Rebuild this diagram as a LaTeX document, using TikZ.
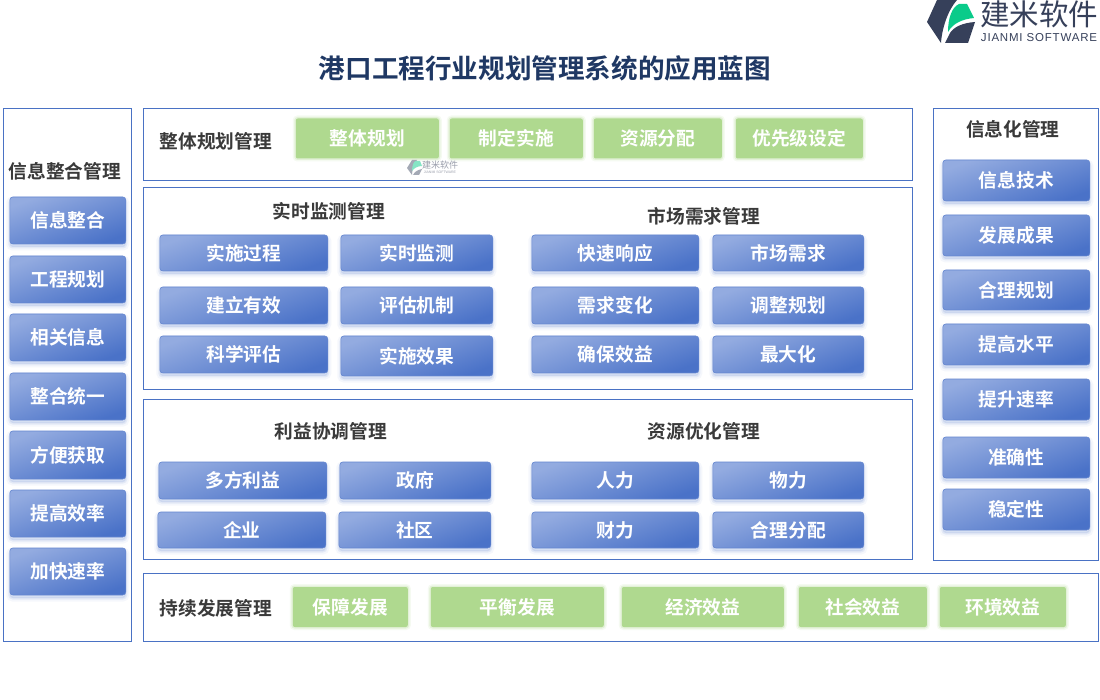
\documentclass[tikz,border=0pt]{standalone}
\usepackage{fontspec}
\setmainfont{Noto Sans CJK SC}[BoldFont={Noto Sans CJK SC Bold}]
\setsansfont{Liberation Sans}
\usetikzlibrary{shadows}
\definecolor{panelblue}{HTML}{4A72C4}
\definecolor{lightblue}{HTML}{93ABE0}
\definecolor{darkblue}{HTML}{4A72C8}
\definecolor{leafgreen}{HTML}{AFD98F}
\definecolor{logodark}{HTML}{36405A}
\definecolor{logogreen}{HTML}{0ACB8A}
\definecolor{headnavy}{HTML}{1F3864}
\definecolor{headgrey}{HTML}{3A3A3A}
\tikzset{
  panel/.style={draw=panelblue,line width=.9pt,fill=white,inner sep=0pt,outer sep=0pt},
  bluebox/.style={xshift=.8pt,rounded corners=3pt,draw=darkblue!85!white,line width=.6pt,left color=lightblue,right color=darkblue,shading angle=20,
    text=white,font=\bfseries\fontsize{18.7}{20}\selectfont,inner sep=0pt,outer sep=0pt,
    general shadow={draw=darkblue,fill=darkblue,draw opacity=.05,fill opacity=.05,line width=7pt,shadow xshift=0pt,shadow yshift=-3pt},
    general shadow={draw=darkblue,fill=darkblue,draw opacity=.10,fill opacity=.10,line width=3pt,shadow xshift=0pt,shadow yshift=-3pt}},
  greenbox/.style={xshift=.8pt,rounded corners=2pt,fill=leafgreen,text=white,font=\bfseries\fontsize{18.7}{20}\selectfont,inner sep=0pt,outer sep=0pt,
    general shadow={draw=leafgreen,draw opacity=.12,line width=6pt,shadow xshift=0pt,shadow yshift=0pt},
    general shadow={draw=leafgreen,draw opacity=.25,line width=3pt,shadow xshift=0pt,shadow yshift=0pt}},
  paneltitle/.style={xshift=.8pt,text=headgrey,font=\bfseries\fontsize{18.7}{20}\selectfont,inner sep=0pt},
}
\newcommand{\placebox}[7]{%
  \pgfmathsetmacro{\bw}{#4-#2}\pgfmathsetmacro{\bh}{#5-#3}%
  \pgfmathsetmacro{\cx}{(#4+#2)/2}\pgfmathsetmacro{\cy}{(#5+#3)/2}%
  \node[#1,minimum width=\bw pt,minimum height=\bh pt] (#6) at (\cx,\cy) {#7};}
\begin{document}
\begin{tikzpicture}[x=1pt,y=-1pt]
\useasboundingbox (0,0) rectangle (1100,700);
\fill[white] (0,0) rectangle (1100,700);
% logo
\fill[logodark] (937,0) -- (957,0) .. controls (948,10) and (942,28) .. (941,43) -- (927,22) -- cycle;
\fill[logodark] (945,43) -- (950,33) .. controls (954,27) and (962,23) .. (975,22) -- (968,43) -- cycle;
\fill[logogreen] (948,32) .. controls (948,18) and (952,7) .. (959,4) -- (967,4) -- (974,18) .. controls (963,19) and (953,23) .. (948,32) -- cycle;
\node[inner sep=0pt,text=logodark,font=\fontsize{29.5}{31}\selectfont] (logocn) at (1039,14) {建米软件};
\node[inner sep=0pt,text=logodark,font=\sffamily\fontsize{11.5}{12}\selectfont\addfontfeature{LetterSpace=7}] (logoen) at (1039,38) {JIANMI SOFTWARE};
% title
\node[inner sep=0pt,text=headnavy,font=\bfseries\fontsize{26.6}{28}\selectfont] (title) at (545,68) {港口工程行业规划管理系统的应用蓝图};
% panels
\placebox{panel}{3}{108}{131}{641}{pleft}{}
\placebox{panel}{143}{108}{912}{180}{ptop}{}
\placebox{panel}{143}{187}{912}{389}{pmidone}{}
\placebox{panel}{143}{399}{912}{559}{pmidtwo}{}
\placebox{panel}{143}{573}{1098}{641}{pbottom}{}
\placebox{panel}{933}{108}{1098}{560}{pright}{}
% titles
\node[paneltitle] (tleft) at (64,171) {信息整合管理};
\node[paneltitle] (ttop) at (215,141) {整体规划管理};
\node[paneltitle] (tmon) at (328,211) {实时监测管理};
\node[paneltitle] (tmkt) at (703,216) {市场需求管理};
\node[paneltitle] (tben) at (330,431) {利益协调管理};
\node[paneltitle] (tres) at (703,431) {资源优化管理};
\node[paneltitle] (tbot) at (215,608) {持续发展管理};
\node[paneltitle] (tright) at (1012,129) {信息化管理};
% left column
\placebox{bluebox}{9}{197}{125}{244}{la}{信息整合}
\placebox{bluebox}{9}{256}{125}{303}{lb}{工程规划}
\placebox{bluebox}{9}{314}{125}{361}{lc}{相关信息}
\placebox{bluebox}{9}{373}{125}{420}{ld}{整合统一}
\placebox{bluebox}{9}{431}{125}{479}{le}{方便获取}
\placebox{bluebox}{9}{490}{125}{537}{lf}{提高效率}
\placebox{bluebox}{9}{548}{125}{595}{lg}{加快速率}
% right column
\placebox{bluebox}{942}{160}{1089}{201}{ra}{信息技术}
\placebox{bluebox}{942}{215}{1089}{256}{rb}{发展成果}
\placebox{bluebox}{942}{270}{1089}{310}{rc}{合理规划}
\placebox{bluebox}{942}{324}{1089}{365}{rd}{提高水平}
\placebox{bluebox}{942}{379}{1089}{420}{re}{提升速率}
\placebox{bluebox}{942}{437}{1089}{478}{rf}{准确性}
\placebox{bluebox}{942}{489}{1089}{530}{rg}{稳定性}
% top row
\placebox{greenbox}{295}{118.5}{438}{158.5}{ga}{整体规划}
\placebox{greenbox}{449}{118.5}{582}{158.5}{gb}{制定实施}
\placebox{greenbox}{593}{118.5}{721}{158.5}{gc}{资源分配}
\placebox{greenbox}{735}{118.5}{862}{158.5}{gd}{优先级设定}
% watermark
\fill[logodark!45] (412,160) -- (417,160) .. controls (414,164) and (412,170) .. (412,175) -- (407,168) -- cycle;
\fill[logodark!45] (413,175) .. controls (415,171) and (418,170) .. (422,169) -- (419,175) -- cycle;
\fill[logogreen!50] (412,171) .. controls (412,165) and (414,161) .. (416,161) -- (420,161) -- (422,166) .. controls (418,166) and (414,168) .. (412,171) -- cycle;
\node[inner sep=0pt,text=logodark!50,font=\fontsize{9}{10}\selectfont] (wmcn) at (440,165) {建米软件};
\node[inner sep=0pt,text=logodark!50,font=\sffamily\fontsize{3.5}{4}\selectfont] (wmen) at (440,172.5) {JIANMI SOFTWARE};
% monitoring
\placebox{bluebox}{159}{235}{327}{271}{ma}{实施过程}
\placebox{bluebox}{340}{235}{492}{271}{mb}{实时监测}
\placebox{bluebox}{159}{287}{327}{324}{mc}{建立有效}
\placebox{bluebox}{340}{287}{492}{324}{md}{评估机制}
\placebox{bluebox}{159}{336}{327}{373}{me}{科学评估}
\placebox{bluebox}{340}{336}{492}{376}{mf}{实施效果}
% market
\placebox{bluebox}{531}{235}{698}{271}{na}{快速响应}
\placebox{bluebox}{712}{235}{863}{271}{nb}{市场需求}
\placebox{bluebox}{531}{287}{698}{324}{nc}{需求变化}
\placebox{bluebox}{712}{287}{863}{324}{nd}{调整规划}
\placebox{bluebox}{531}{336}{698}{373}{ne}{确保效益}
\placebox{bluebox}{712}{336}{863}{373}{nf}{最大化}
% benefit
\placebox{bluebox}{158}{462}{326}{499}{ba}{多方利益}
\placebox{bluebox}{339}{462}{490}{499}{bb}{政府}
\placebox{bluebox}{157}{512}{325}{548}{bc}{企业}
\placebox{bluebox}{338}{512}{490}{548}{bd}{社区}
% resource
\placebox{bluebox}{531}{462}{698}{499}{ca}{人力}
\placebox{bluebox}{712}{462}{863}{499}{cb}{物力}
\placebox{bluebox}{531}{512}{698}{548}{cc}{财力}
\placebox{bluebox}{712}{512}{863}{548}{cd}{合理分配}
% bottom row
\placebox{greenbox}{292}{587}{407}{627}{ha}{保障发展}
\placebox{greenbox}{430}{587}{603}{627}{hb}{平衡发展}
\placebox{greenbox}{621}{587}{783}{627}{hc}{经济效益}
\placebox{greenbox}{798}{587}{926}{627}{hd}{社会效益}
\placebox{greenbox}{939}{587}{1065}{627}{he}{环境效益}
\end{tikzpicture}
\end{document}
